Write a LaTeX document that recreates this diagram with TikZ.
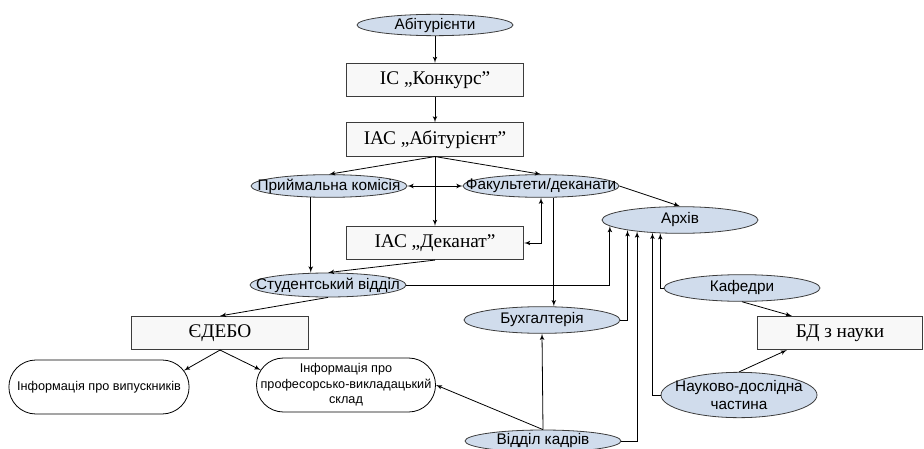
\documentclass[tikz,border=0pt]{standalone}
\usepackage{fontspec}
\setmainfont{Liberation Serif}
\setsansfont{Liberation Sans}
\usepackage{xcolor}
\usepackage{tikz}
\usetikzlibrary{calc}
\usetikzlibrary{arrows}
\usetikzlibrary{shapes.geometric}
\usetikzlibrary{shapes.misc}
\tikzset{>=latex'}
\definecolor{ellfill}{RGB}{208,220,236}
\definecolor{boxfill}{RGB}{248,248,248}
\definecolor{edgegray}{RGB}{60,60,60}
\newcommand{\zwtext}[1]{\makebox[0pt][c]{\begin{tabular}{@{}c@{}}#1\end{tabular}}}

\begin{document}
\begin{tikzpicture}[x=0.75pt,y=-0.75pt,line width=0.6pt,
	ovl/.style={draw=edgegray,fill=ellfill,ellipse,inner xsep=-45pt,inner ysep=-7pt,minimum width=117pt,minimum height=#1,align=center,font=\sffamily\fontsize{11.5}{13}\selectfont},
	ovl/.default=17pt,
	sq/.style={draw=edgegray,fill=boxfill,inner sep=0pt,minimum width=133pt,minimum height=25pt,font=\fontsize{14.5}{16}\selectfont},
	pill/.style={draw=black,fill=white,rounded rectangle,inner xsep=66.75pt,inner ysep=0pt,minimum width=1pt,minimum height=40.5pt,font=\sffamily\fontsize{9.5}{11.5}\selectfont}]
	\useasboundingbox (0,0) rectangle (924,449);
	\node[ovl=16pt] (abituriienty) at (435,25) {Абітурієнти};
	\node[sq] (konkurs) at (435,80) {ІС „Конкурс”};
	\node[sq] (ias abit) at (435,139.5) {ІАС „Абітурієнт”};
	\node[ovl] (pryimalna) at (329,186) {Приймальна комісія};
	\node[ovl] (fakultety) at (541,186) {Факультети/деканати};
	\node[sq] (ias dekanat) at (435,243) {ІАС „Деканат”};
	\node[ovl=18pt] (student) at (328,285) {Студентський відділ};
	\node[sq] (edebo) at (220,333) {ЄДЕБО};
	\node[ovl=20pt] (arkhiv) at (680,220) {Архів};
	\node[ovl=20pt] (bukh) at (542,320) {Бухгалтерія};
	\node[ovl=20pt] (kafedry) at (742,288) {Кафедри};
	\node[sq,minimum width=124pt] (bd nauky) at (840,333) {БД з науки};
	\node[ovl=34pt] (ndch) at (739,395) {Науково-дослідна\\частина};
	\node[ovl=16.5pt] (kadry) at (543,441) {Відділ кадрів};
	\node[pill] (vypusk) at (99,387) {\zwtext{Інформація про випускників}};
	\node[pill,inner xsep=57.5pt] (pvs) at (346,385) {\zwtext{Інформація про\\професорсько-викладацький\\склад}};
	\draw[->] (abituriienty) -- (konkurs);
	\draw[->] (konkurs) -- (ias abit);
	\draw[->] (ias abit.south) -- (pryimalna.north);
	\draw[->] (ias abit.south) -- (fakultety.north);
	\draw[->] (ias abit.south) -- (ias dekanat.north);
	\draw[<->] (pryimalna) -- (fakultety);
	\draw[->] (fakultety.east) -- (arkhiv.north);
	\draw[<->] (fakultety.south) |- (ias dekanat.east);
	\draw[->] (fakultety.-42) -- (fakultety.-42 |- bukh.north);
	\draw[->] (pryimalna.212) -- (pryimalna.212 |- student.north);
	\draw[->] (ias dekanat.south) -- (student.north);
	\draw[->] (student.east) -| (arkhiv.185);
	\draw[->] (student.south) -- (edebo.north);
	\draw[->] (edebo.south) -- (vypusk.11);
	\draw[->] (edebo.south) -- (pvs.170);
	\draw[->] (bukh.east) -| (arkhiv.191);
	\draw[->] (kadry.north) -- (bukh.south);
	\draw[->] (kadry.north) -- (pvs.east);
	\draw[->] (kadry.east) -| (arkhiv.195);
	\draw[->] (kafedry.west) -| (arkhiv.214);
	\draw[->] (kafedry.south) -- ($(bd nauky.north west)!0.21!(bd nauky.north east)$);
	\draw[->] (ndch.west) -| (arkhiv.205);
	\draw[->] (ndch.north) -- ($(bd nauky.south west)!0.18!(bd nauky.south east)$);
\end{tikzpicture}
\end{document}
